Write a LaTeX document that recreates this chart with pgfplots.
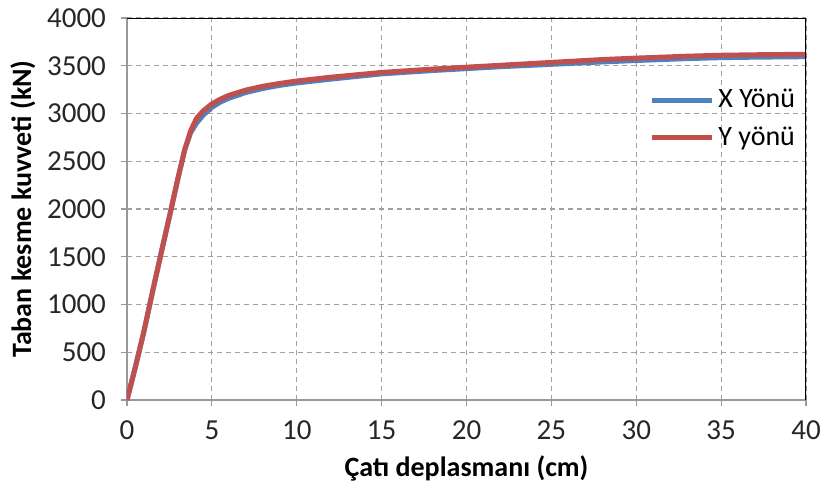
\documentclass[border=0pt]{standalone}
\usepackage{pgfplots}
\pgfplotsset{compat=1.18}
\usepackage{fontspec}
\setmainfont{Carlito}
\definecolor{exblue}{RGB}{79,129,189}
\definecolor{exred}{RGB}{192,80,77}
\begin{document}
\begin{tikzpicture}
\begin{axis}[
  name=ax,
  scale only axis,
  width=339.5pt, height=191pt,
  xmin=0, xmax=40, ymin=0, ymax=4000,
  xtick={0,5,...,40}, ytick={0,500,...,4000},
  axis x line*=bottom, axis y line*=left,
  axis line style={gray!80, line width=0.8pt},
  tick align=outside, major tick length=3pt,
  tick style={gray!80, line width=0.6pt},
  grid=major, grid style={gray!75, line width=0.6pt, dash pattern=on 2.5pt off 2pt},
  /pgf/number format/assume math mode=true,
  /pgf/number format/1000 sep={},
  ticklabel style={font=\fontsize{14.5}{16}\selectfont, text=black!85},
  yticklabel style={xshift=-4pt},
  xticklabel style={yshift=-4pt},
  xlabel={\textbf{Çatı deplasmanı (cm)}},
  ylabel={\textbf{Taban kesme kuvveti (kN)}},
  label style={font=\fontsize{14}{16}\selectfont},
  xlabel style={yshift=-1pt},
  ylabel style={yshift=-1pt},
  legend style={at={(0.76,0.835)}, anchor=north west, draw=none, fill=none,
    font=\fontsize{14}{16}\selectfont, row sep=4pt},
  legend cell align=left,
  legend image code/.code={\draw[#1] (0pt,0pt) -- (30pt,0pt);},
]
\addplot[exblue, line width=2.5pt, line join=round] coordinates {
(0,0) (0.5,350) (1.0,720) (1.5,1130) (2.0,1530) (2.55,1960) (3.0,2320) (3.4,2620) (3.75,2800)
(4.1,2900) (4.5,2985) (5,3065) (5.5,3120) (6,3160) (7,3220) (8,3262) (9,3295)
(10,3320) (12,3360) (15,3415) (18,3450) (20,3470) (22,3490) (25,3515)
(28,3540) (30,3555) (33,3575) (35,3585) (37,3590) (40,3595)
};
\addlegendentry{X Yönü}
\addplot[exred, line width=2.5pt, line join=round] coordinates {
(0,0) (0.5,350) (1.0,720) (1.5,1130) (2.0,1530) (2.55,1960) (3.0,2320) (3.4,2620) (3.75,2820)
(4.1,2950) (4.5,3030) (5,3100) (5.5,3150) (6,3190) (7,3245) (8,3285) (9,3315)
(10,3340) (12,3380) (15,3430) (18,3465) (20,3485) (22,3505) (25,3535)
(28,3565) (30,3580) (33,3600) (35,3610) (37,3615) (40,3620)
};
\addlegendentry{Y yönü}
\draw[black, line width=0.9pt] (rel axis cs:0,1) -- (rel axis cs:1,1) -- (rel axis cs:1,0);
\end{axis}
\pgfresetboundingbox
\path (ax.south west) ++(-63.5pt,-41pt) coordinate (bl);
\path (ax.north east) ++(8.5pt,9pt) coordinate (tr);
\path (bl) rectangle (tr);
\end{tikzpicture}
\end{document}
